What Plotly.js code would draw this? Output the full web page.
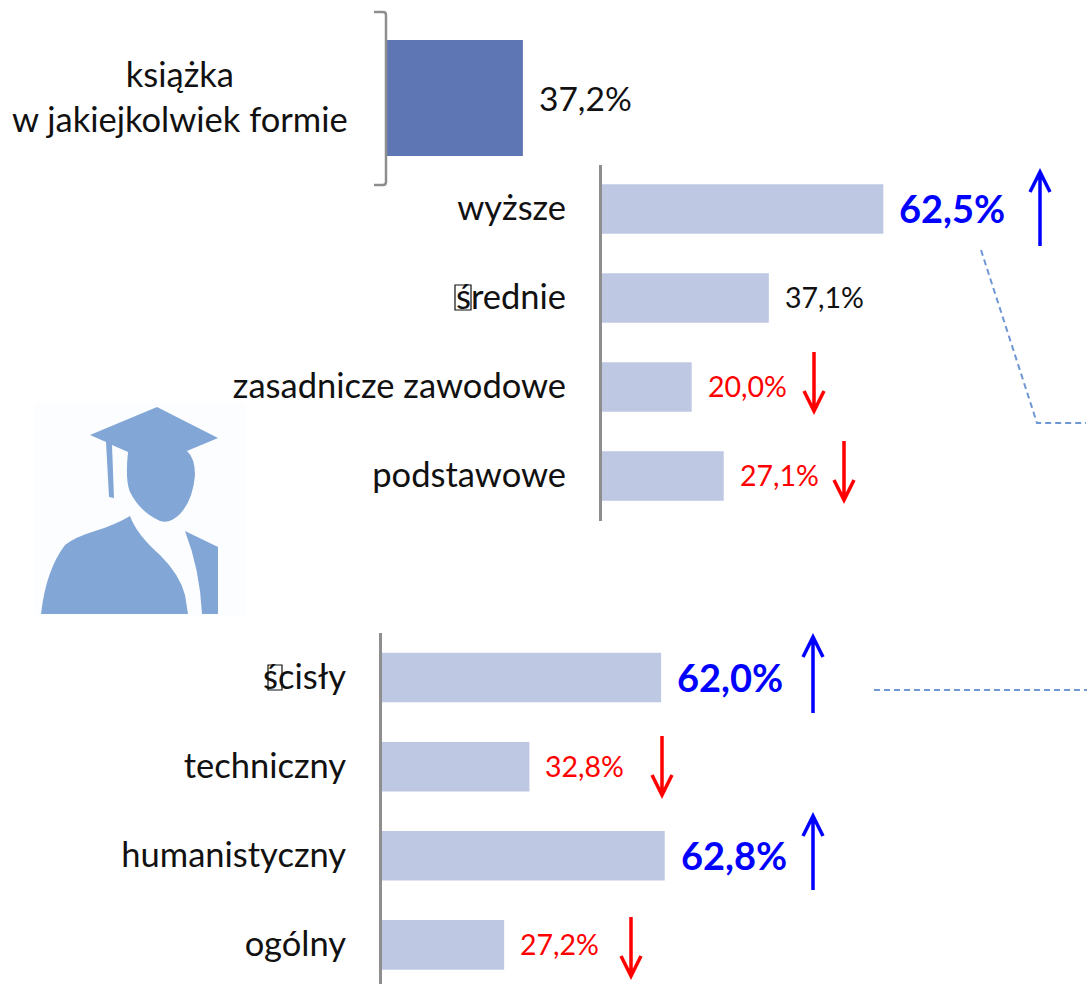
<!DOCTYPE html>
<html><head><meta charset="utf-8">
<script src="https://cdn.plot.ly/plotly-3.0.1.min.js"></script>
<style>html,body{margin:0;padding:0;background:#fff}#c{width:1088px;height:984px}</style></head>
<body><div id="c"></div>
<script>
const topCategories = ['książka<br>w jakiejkolwiek formie'];
const topValues = [37.2];
const eduCategories = ['wyższe','średnie','zasadnicze zawodowe','podstawowe'];
const eduValues = [62.5,37.1,20.0,27.1];
const eduTrend = ['up','none','down','down'];
const profileCategories = ['ścisły','techniczny','humanistyczny','ogólny'];
const profileValues = [62.0,32.8,62.8,27.2];
const profileTrend = ['up','down','up','down'];

const W=1088,H=984,FONT='Lato, Carlito, sans-serif';
const BLUE='#0000ff',RED='#ff0000',GREY='#8e8e8e',LIGHT='#bfc8e2',DARK='#5f76b4',DASH='#6f97d3',ICON='#82a7d6';
const fmt=v=>v.toFixed(1).replace('.',',')+'%';
const fx=p=>p/W, fy=p=>1-p/H;

function bar(cats,vals,xa,ya,color,gap){
  return {type:'bar',orientation:'h',y:cats,x:vals,xaxis:xa,yaxis:ya,marker:{color},width:gap,hoverinfo:'skip',showlegend:false};
}
const data=[
  bar(topCategories,topValues,'x','y',DARK,0.667),
  bar(eduCategories,eduValues,'x2','y2',LIGHT,0.556),
  bar(profileCategories,profileValues,'x3','y3',LIGHT,0.556),
  {type:'scatter',x:[0],y:[0],xaxis:'x4',yaxis:'y4',mode:'none',hoverinfo:'skip',showlegend:false}
];
const xa=(l,scale)=>({domain:[fx(l),1],range:[0,(W-l)/scale],visible:false,fixedrange:true});
const ya=(top,bot,anchor,range,extra)=>Object.assign({domain:[fy(bot),fy(top)],anchor,type:'category',range,
  showline:true,linecolor:GREY,linewidth:2.5,ticks:'',showgrid:false,zeroline:false,fixedrange:true,
  tickfont:{family:FONT,size:34.5,color:'#111'},ticklabelstandoff:26,ticklabelshift:1},extra||{});

const annotations=[];
function label(cats,vals,trend,xr,yr){
  cats.forEach((c,i)=>{
    const t=trend[i];
    annotations.push({xref:xr,yref:yr,x:vals[i],y:c,text:t==='up'?'<b>'+fmt(vals[i])+'</b>':fmt(vals[i]),
      showarrow:false,xanchor:'left',yanchor:'middle',xshift:14,yshift:1,
      font:{family:FONT,size:t==='up'?38:28.5,color:t==='up'?BLUE:t==='down'?RED:'#111'}});
  });
}
label(eduCategories,eduValues,eduTrend,'x2','y2');
label(profileCategories,profileValues,profileTrend,'x3','y3');
annotations.push({xref:'x',yref:'y',x:topValues[0],y:topCategories[0],text:fmt(topValues[0]),showarrow:false,xanchor:'left',yanchor:'middle',xshift:14,yshift:0,font:{family:FONT,size:33.5,color:'#111'}});
annotations.push({xref:'x4',yref:'y4',x:180,y:96,text:topCategories[0],showarrow:false,xanchor:'center',yanchor:'middle',align:'center',font:{family:FONT,size:34.5,color:'#111'}});

const px=(d,extra)=>Object.assign({type:'path',xref:'x4',yref:'y4',path:d,line:{width:0}},extra||{});
function arrow(x,y1,y2,color){
  const up=color===BLUE, tip=up?y1:y2, tail=up?y2:y1, s=up?1:-1;
  return px(`M${x} ${tail}L${x} ${tip}M${x-10} ${tip+s*20}L${x} ${tip}L${x+10} ${tip+s*20}`,{line:{color,width:3.5}});
}
const iconPath='M157 407L218 438L187 451Q195 458 195 475Q193 500 180 514Q170 524 160 521Q140 512 130 492Q125 480 128 452L112 445L114 498L109 497L106 442L90 435Z'+
 'M41 614Q46 570 65 545Q75 537 95 531Q115 525 130 516Q137 535 160 555Q180 575 185 595L188 614Z'+
 'M185 531L218 547V614H202Q200 570 185 531Z';
const shapes=[
  px('M35 403H246V615H35Z',{fillcolor:'#fcfdfe',layer:'below'}),
  px(iconPath,{fillcolor:ICON}),
  px('M374 12H383Q386 12 386 15V182Q386 185 383 185H374',{line:{color:GREY,width:2.5}}),
  px('M981 250L1037 423H1086',{line:{color:DASH,width:2,dash:'6px,4px'}}),
  px('M874 690H1087',{line:{color:DASH,width:2,dash:'6px,4px'}}),
  arrow(1040,172,246,BLUE),
  arrow(814,352,411,RED),
  arrow(844,441,500,RED),
  arrow(813,637,713,BLUE),
  arrow(662,736,795,RED),
  arrow(813,816,890,BLUE),
  arrow(631,917,976,RED),
  px('M455 285H471V310H455Z',{line:{color:'#111',width:1.2}}),
  px('M268 665H282V690H268Z',{line:{color:'#111',width:1.2}})
];
const layout={width:W,height:H,margin:{l:0,r:0,t:0,b:0},paper_bgcolor:'#fff',plot_bgcolor:'rgba(0,0,0,0)',showlegend:false,
  xaxis:xa(386,3.68),
  yaxis:ya(11,185,'x',[-0.5,0.5],{showticklabels:false,showline:false}),
  xaxis2:xa(601.5,4.51),
  yaxis2:ya(164.5,520.5,'x2',[3.5,-0.5]),
  xaxis3:xa(381.5,4.51),
  yaxis3:ya(633,984,'x3',[3.439,-0.5]),
  xaxis4:{domain:[0,1],range:[0,W],visible:false,fixedrange:true},
  yaxis4:{domain:[0,1],range:[H,0],visible:false,fixedrange:true,anchor:'x4'},
  annotations,shapes};
Plotly.newPlot('c',data,layout,{displayModeBar:false,staticPlot:true});
</script></body></html>
